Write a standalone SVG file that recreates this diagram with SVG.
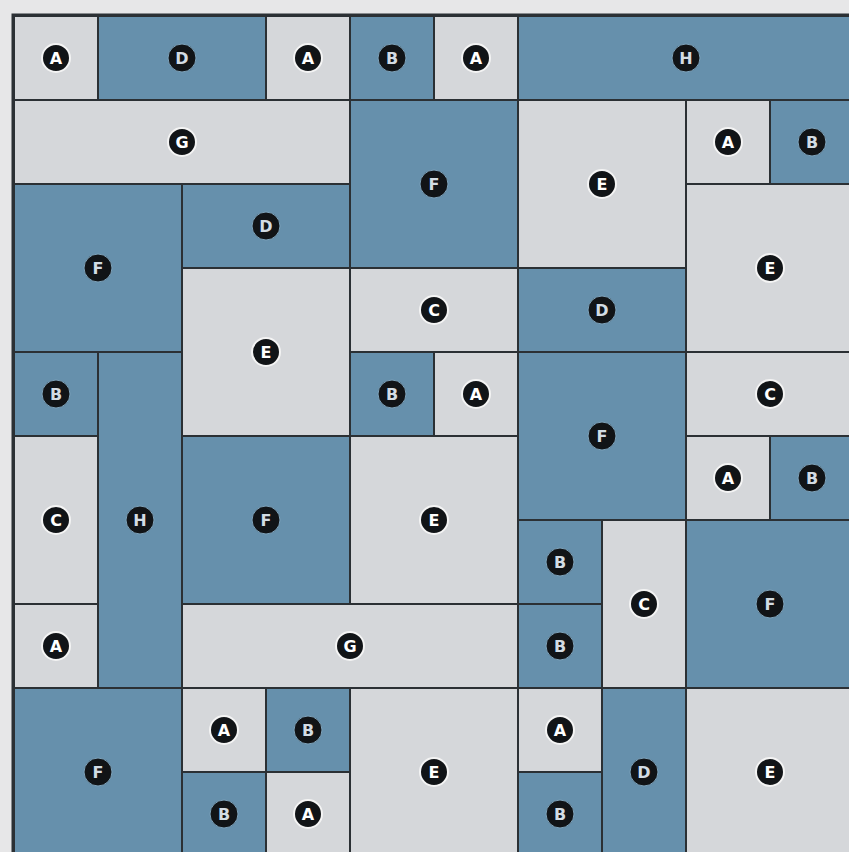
<svg xmlns="http://www.w3.org/2000/svg" width="849" height="852" viewBox="0 0 849 852">
<style>
.l{fill:#d5d7da;stroke:#2b3034;stroke-width:2}
.b{fill:#6690ac;stroke:#2b3034;stroke-width:2}
.c{fill:#111417}
.lt .c{stroke:#f4f4f4;stroke-width:2}
.bt .c{stroke:#7ea3bb;stroke-width:1}
.lt text{fill:#ffffff}
.bt text{fill:#d3dce4}
text{font-family:"DejaVu Sans","Liberation Sans",sans-serif;font-weight:bold;font-size:16px;text-anchor:middle;dominant-baseline:central}
</style>
<rect x="0" y="0" width="849" height="852" fill="#e7e7e8"/>
<rect x="13" y="15" width="850" height="850" fill="none" stroke="#2b3034" stroke-width="3"/>
<g id="tiles">
<g id="n1" class="lt"><rect class="l" x="14" y="16" width="84" height="84"/><circle class="c" cx="56" cy="58" r="14"/><text x="56" y="58">A</text></g>
<g id="n2" class="bt"><rect class="b" x="98" y="16" width="168" height="84"/><circle class="c" cx="182" cy="58" r="14"/><text x="182" y="58">D</text></g>
<g id="n3" class="lt"><rect class="l" x="266" y="16" width="84" height="84"/><circle class="c" cx="308" cy="58" r="14"/><text x="308" y="58">A</text></g>
<g id="n4" class="bt"><rect class="b" x="350" y="16" width="84" height="84"/><circle class="c" cx="392" cy="58" r="14"/><text x="392" y="58">B</text></g>
<g id="n5" class="lt"><rect class="l" x="434" y="16" width="84" height="84"/><circle class="c" cx="476" cy="58" r="14"/><text x="476" y="58">A</text></g>
<g id="n6" class="bt"><rect class="b" x="518" y="16" width="336" height="84"/><circle class="c" cx="686" cy="58" r="14"/><text x="686" y="58">H</text></g>

<g id="n7" class="lt"><rect class="l" x="14" y="100" width="336" height="84"/><circle class="c" cx="182" cy="142" r="14"/><text x="182" y="142">G</text></g>
<g id="n8" class="bt"><rect class="b" x="350" y="100" width="168" height="168"/><circle class="c" cx="434" cy="184" r="14"/><text x="434" y="184">F</text></g>
<g id="n9" class="lt"><rect class="l" x="518" y="100" width="168" height="168"/><circle class="c" cx="602" cy="184" r="14"/><text x="602" y="184">E</text></g>
<g id="n10" class="lt"><rect class="l" x="686" y="100" width="84" height="84"/><circle class="c" cx="728" cy="142" r="14"/><text x="728" y="142">A</text></g>
<g id="n11" class="bt"><rect class="b" x="770" y="100" width="84" height="84"/><circle class="c" cx="812" cy="142" r="14"/><text x="812" y="142">B</text></g>

<g id="n12" class="bt"><rect class="b" x="14" y="184" width="168" height="168"/><circle class="c" cx="98" cy="268" r="14"/><text x="98" y="268">F</text></g>
<g id="n13" class="bt"><rect class="b" x="182" y="184" width="168" height="84"/><circle class="c" cx="266" cy="226" r="14"/><text x="266" y="226">D</text></g>
<g id="n14" class="lt"><rect class="l" x="686" y="184" width="168" height="168"/><circle class="c" cx="770" cy="268" r="14"/><text x="770" y="268">E</text></g>

<g id="n15" class="lt"><rect class="l" x="182" y="268" width="168" height="168"/><circle class="c" cx="266" cy="352" r="14"/><text x="266" y="352">E</text></g>
<g id="n16" class="lt"><rect class="l" x="350" y="268" width="168" height="84"/><circle class="c" cx="434" cy="310" r="14"/><text x="434" y="310">C</text></g>
<g id="n17" class="bt"><rect class="b" x="518" y="268" width="168" height="84"/><circle class="c" cx="602" cy="310" r="14"/><text x="602" y="310">D</text></g>

<g id="n18" class="bt"><rect class="b" x="14" y="352" width="84" height="84"/><circle class="c" cx="56" cy="394" r="14"/><text x="56" y="394">B</text></g>
<g id="n19" class="bt"><rect class="b" x="98" y="352" width="84" height="336"/><circle class="c" cx="140" cy="520" r="14"/><text x="140" y="520">H</text></g>
<g id="n20" class="bt"><rect class="b" x="350" y="352" width="84" height="84"/><circle class="c" cx="392" cy="394" r="14"/><text x="392" y="394">B</text></g>
<g id="n21" class="lt"><rect class="l" x="434" y="352" width="84" height="84"/><circle class="c" cx="476" cy="394" r="14"/><text x="476" y="394">A</text></g>
<g id="n22" class="bt"><rect class="b" x="518" y="352" width="168" height="168"/><circle class="c" cx="602" cy="436" r="14"/><text x="602" y="436">F</text></g>
<g id="n23" class="lt"><rect class="l" x="686" y="352" width="168" height="84"/><circle class="c" cx="770" cy="394" r="14"/><text x="770" y="394">C</text></g>

<g id="n24" class="lt"><rect class="l" x="14" y="436" width="84" height="168"/><circle class="c" cx="56" cy="520" r="14"/><text x="56" y="520">C</text></g>
<g id="n25" class="bt"><rect class="b" x="182" y="436" width="168" height="168"/><circle class="c" cx="266" cy="520" r="14"/><text x="266" y="520">F</text></g>
<g id="n26" class="lt"><rect class="l" x="350" y="436" width="168" height="168"/><circle class="c" cx="434" cy="520" r="14"/><text x="434" y="520">E</text></g>
<g id="n27" class="lt"><rect class="l" x="686" y="436" width="84" height="84"/><circle class="c" cx="728" cy="478" r="14"/><text x="728" y="478">A</text></g>
<g id="n28" class="bt"><rect class="b" x="770" y="436" width="84" height="84"/><circle class="c" cx="812" cy="478" r="14"/><text x="812" y="478">B</text></g>

<g id="n29" class="bt"><rect class="b" x="518" y="520" width="84" height="84"/><circle class="c" cx="560" cy="562" r="14"/><text x="560" y="562">B</text></g>
<g id="n30" class="lt"><rect class="l" x="602" y="520" width="84" height="168"/><circle class="c" cx="644" cy="604" r="14"/><text x="644" y="604">C</text></g>
<g id="n31" class="bt"><rect class="b" x="686" y="520" width="168" height="168"/><circle class="c" cx="770" cy="604" r="14"/><text x="770" y="604">F</text></g>

<g id="n32" class="lt"><rect class="l" x="14" y="604" width="84" height="84"/><circle class="c" cx="56" cy="646" r="14"/><text x="56" y="646">A</text></g>
<g id="n33" class="lt"><rect class="l" x="182" y="604" width="336" height="84"/><circle class="c" cx="350" cy="646" r="14"/><text x="350" y="646">G</text></g>
<g id="n34" class="bt"><rect class="b" x="518" y="604" width="84" height="84"/><circle class="c" cx="560" cy="646" r="14"/><text x="560" y="646">B</text></g>

<g id="n35" class="bt"><rect class="b" x="14" y="688" width="168" height="168"/><circle class="c" cx="98" cy="772" r="14"/><text x="98" y="772">F</text></g>
<g id="n36" class="lt"><rect class="l" x="182" y="688" width="84" height="84"/><circle class="c" cx="224" cy="730" r="14"/><text x="224" y="730">A</text></g>
<g id="n37" class="bt"><rect class="b" x="266" y="688" width="84" height="84"/><circle class="c" cx="308" cy="730" r="14"/><text x="308" y="730">B</text></g>
<g id="n38" class="lt"><rect class="l" x="350" y="688" width="168" height="168"/><circle class="c" cx="434" cy="772" r="14"/><text x="434" y="772">E</text></g>
<g id="n39" class="lt"><rect class="l" x="518" y="688" width="84" height="84"/><circle class="c" cx="560" cy="730" r="14"/><text x="560" y="730">A</text></g>
<g id="n40" class="bt"><rect class="b" x="602" y="688" width="84" height="168"/><circle class="c" cx="644" cy="772" r="14"/><text x="644" y="772">D</text></g>
<g id="n41" class="lt"><rect class="l" x="686" y="688" width="168" height="168"/><circle class="c" cx="770" cy="772" r="14"/><text x="770" y="772">E</text></g>

<g id="n42" class="bt"><rect class="b" x="182" y="772" width="84" height="84"/><circle class="c" cx="224" cy="814" r="14"/><text x="224" y="814">B</text></g>
<g id="n43" class="lt"><rect class="l" x="266" y="772" width="84" height="84"/><circle class="c" cx="308" cy="814" r="14"/><text x="308" y="814">A</text></g>
<g id="n44" class="bt"><rect class="b" x="518" y="772" width="84" height="84"/><circle class="c" cx="560" cy="814" r="14"/><text x="560" y="814">B</text></g>
</g>
<g id="connectors"/>
</svg>
